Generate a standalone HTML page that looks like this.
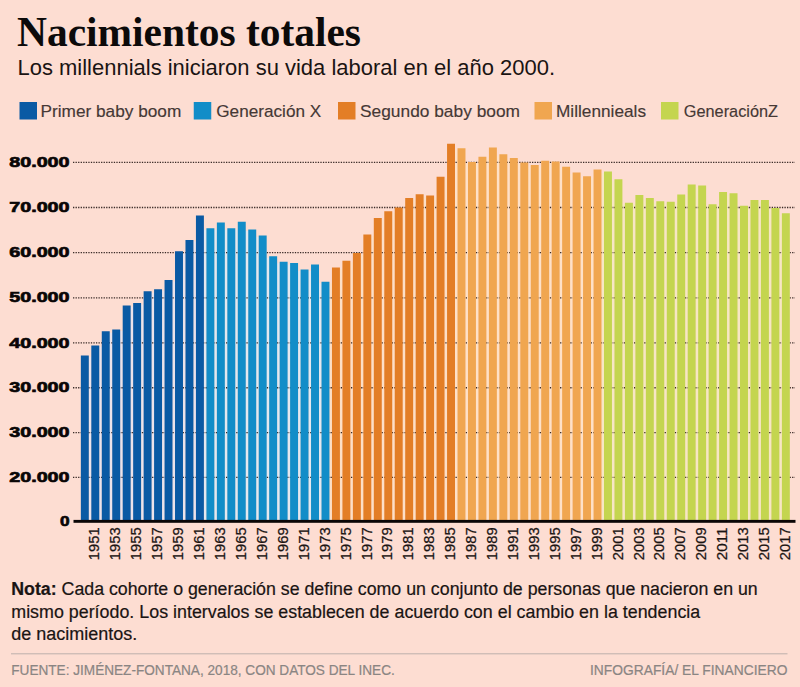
<!DOCTYPE html><html><head><meta charset="utf-8"><title>Nacimientos totales</title><style>
html,body{margin:0;padding:0;background:#fdddd2;}body{width:800px;height:687px;overflow:hidden;position:relative;font-family:"Liberation Sans",sans-serif;}svg{position:absolute;left:0;top:0;display:block}text{font-family:"Liberation Sans",sans-serif}.serif{font-family:"Liberation Serif",serif}
</style></head><body>
<svg width="800" height="687" viewBox="0 0 800 687">
<rect x="0" y="0" width="800" height="687" fill="#fdddd2"/>
<text class="serif" x="17" y="46.3" font-size="42.2" font-weight="bold" fill="#0c0a0a" textLength="344" lengthAdjust="spacingAndGlyphs">Nacimientos totales</text>
<text x="17.5" y="75" font-size="22.5" fill="#1a1413" textLength="537.5" lengthAdjust="spacingAndGlyphs">Los millennials iniciaron su vida laboral en el año 2000.</text>
<rect x="19.50" y="102" width="17.5" height="17.5" fill="#0a5aa4"/>
<text x="40.50" y="117" font-size="17" fill="#453835" stroke="#453835" stroke-width="0.15" textLength="140.75" lengthAdjust="spacingAndGlyphs">Primer baby boom</text>
<rect x="193.75" y="102" width="17.5" height="17.5" fill="#128dc8"/>
<text x="216.25" y="117" font-size="17" fill="#453835" stroke="#453835" stroke-width="0.15" textLength="105.00" lengthAdjust="spacingAndGlyphs">Generación X</text>
<rect x="338.00" y="102" width="17.5" height="17.5" fill="#e37e26"/>
<text x="360.00" y="117" font-size="17" fill="#453835" stroke="#453835" stroke-width="0.15" textLength="160.00" lengthAdjust="spacingAndGlyphs">Segundo baby boom</text>
<rect x="534.50" y="102" width="17.5" height="17.5" fill="#f0a650"/>
<text x="556.00" y="117" font-size="17" fill="#453835" stroke="#453835" stroke-width="0.15" textLength="90.00" lengthAdjust="spacingAndGlyphs">Millennieals</text>
<rect x="661.00" y="102" width="17.5" height="17.5" fill="#c4d54f"/>
<text x="683.75" y="117" font-size="17" fill="#453835" stroke="#453835" stroke-width="0.15" textLength="94.25" lengthAdjust="spacingAndGlyphs">GeneraciónZ</text>
<rect x="88.80" y="357.00" width="2.51" height="164.30" fill="#ece3ea"/>
<rect x="99.26" y="347.00" width="2.51" height="174.30" fill="#ece3ea"/>
<rect x="109.73" y="332.75" width="2.51" height="188.55" fill="#ece3ea"/>
<rect x="120.19" y="331.00" width="2.51" height="190.30" fill="#ece3ea"/>
<rect x="130.65" y="307.00" width="2.51" height="214.30" fill="#ece3ea"/>
<rect x="141.11" y="304.50" width="2.51" height="216.80" fill="#ece3ea"/>
<rect x="151.58" y="292.75" width="2.51" height="228.55" fill="#ece3ea"/>
<rect x="162.04" y="290.75" width="2.51" height="230.55" fill="#ece3ea"/>
<rect x="172.50" y="281.50" width="2.51" height="239.80" fill="#ece3ea"/>
<rect x="182.97" y="252.75" width="2.51" height="268.55" fill="#ece3ea"/>
<rect x="193.43" y="241.50" width="2.51" height="279.80" fill="#ece3ea"/>
<rect x="203.89" y="229.75" width="2.51" height="291.55" fill="#e4e8ef"/>
<rect x="214.36" y="229.75" width="2.51" height="291.55" fill="#e4e8ef"/>
<rect x="224.82" y="229.75" width="2.51" height="291.55" fill="#e4e8ef"/>
<rect x="235.28" y="229.75" width="2.51" height="291.55" fill="#e4e8ef"/>
<rect x="245.74" y="231.00" width="2.51" height="290.30" fill="#e4e8ef"/>
<rect x="256.21" y="237.00" width="2.51" height="284.30" fill="#e4e8ef"/>
<rect x="266.67" y="257.75" width="2.51" height="263.55" fill="#e4e8ef"/>
<rect x="277.13" y="263.25" width="2.51" height="258.05" fill="#e4e8ef"/>
<rect x="287.60" y="264.50" width="2.51" height="256.80" fill="#e4e8ef"/>
<rect x="298.06" y="271.00" width="2.51" height="250.30" fill="#e4e8ef"/>
<rect x="308.52" y="271.00" width="2.51" height="250.30" fill="#e4e8ef"/>
<rect x="318.99" y="283.25" width="2.51" height="238.05" fill="#e4e8ef"/>
<rect x="329.45" y="283.25" width="2.51" height="238.05" fill="#fddfc6"/>
<rect x="339.91" y="269.00" width="2.51" height="252.30" fill="#fddfc6"/>
<rect x="350.37" y="262.25" width="2.51" height="259.05" fill="#fddfc6"/>
<rect x="360.84" y="254.50" width="2.51" height="266.80" fill="#fddfc6"/>
<rect x="371.30" y="236.00" width="2.51" height="285.30" fill="#fddfc6"/>
<rect x="381.76" y="219.50" width="2.51" height="301.80" fill="#fddfc6"/>
<rect x="392.23" y="212.75" width="2.51" height="308.55" fill="#fddfc6"/>
<rect x="402.69" y="209.00" width="2.51" height="312.30" fill="#fddfc6"/>
<rect x="413.15" y="199.50" width="2.51" height="321.80" fill="#fddfc6"/>
<rect x="423.62" y="197.00" width="2.51" height="324.30" fill="#fddfc6"/>
<rect x="434.08" y="197.00" width="2.51" height="324.30" fill="#fddfc6"/>
<rect x="444.54" y="178.25" width="2.51" height="343.05" fill="#fddfc6"/>
<rect x="455.00" y="149.75" width="2.51" height="371.55" fill="#fee1c8"/>
<rect x="465.47" y="163.50" width="2.51" height="357.80" fill="#fee1c8"/>
<rect x="475.93" y="163.50" width="2.51" height="357.80" fill="#fee1c8"/>
<rect x="486.39" y="158.25" width="2.51" height="363.05" fill="#fee1c8"/>
<rect x="496.86" y="155.75" width="2.51" height="365.55" fill="#fee1c8"/>
<rect x="507.32" y="159.50" width="2.51" height="361.80" fill="#fee1c8"/>
<rect x="517.78" y="164.00" width="2.51" height="357.30" fill="#fee1c8"/>
<rect x="528.25" y="166.50" width="2.51" height="354.80" fill="#fee1c8"/>
<rect x="538.71" y="166.50" width="2.51" height="354.80" fill="#fee1c8"/>
<rect x="549.17" y="163.00" width="2.51" height="358.30" fill="#fee1c8"/>
<rect x="559.63" y="168.25" width="2.51" height="353.05" fill="#fee1c8"/>
<rect x="570.10" y="174.00" width="2.51" height="347.30" fill="#fee1c8"/>
<rect x="580.56" y="177.75" width="2.51" height="343.55" fill="#fee1c8"/>
<rect x="591.02" y="177.75" width="2.51" height="343.55" fill="#fee1c8"/>
<rect x="601.49" y="173.00" width="2.51" height="348.30" fill="#f7e6c4"/>
<rect x="611.95" y="180.75" width="2.51" height="340.55" fill="#f7e6c4"/>
<rect x="622.41" y="204.25" width="2.51" height="317.05" fill="#f7e6c4"/>
<rect x="632.88" y="204.25" width="2.51" height="317.05" fill="#f7e6c4"/>
<rect x="643.34" y="199.50" width="2.51" height="321.80" fill="#f7e6c4"/>
<rect x="653.80" y="202.75" width="2.51" height="318.55" fill="#f7e6c4"/>
<rect x="664.26" y="203.25" width="2.51" height="318.05" fill="#f7e6c4"/>
<rect x="674.73" y="203.25" width="2.51" height="318.05" fill="#f7e6c4"/>
<rect x="685.19" y="196.00" width="2.51" height="325.30" fill="#f7e6c4"/>
<rect x="695.65" y="187.00" width="2.51" height="334.30" fill="#f7e6c4"/>
<rect x="706.12" y="205.75" width="2.51" height="315.55" fill="#f7e6c4"/>
<rect x="716.58" y="205.75" width="2.51" height="315.55" fill="#f7e6c4"/>
<rect x="727.04" y="194.75" width="2.51" height="326.55" fill="#f7e6c4"/>
<rect x="737.51" y="207.25" width="2.51" height="314.05" fill="#f7e6c4"/>
<rect x="747.97" y="207.25" width="2.51" height="314.05" fill="#f7e6c4"/>
<rect x="758.43" y="201.50" width="2.51" height="319.80" fill="#f7e6c4"/>
<rect x="768.89" y="209.50" width="2.51" height="311.80" fill="#f7e6c4"/>
<rect x="779.36" y="214.75" width="2.51" height="306.55" fill="#f7e6c4"/>
<line x1="73" y1="162.40" x2="795" y2="162.40" stroke="#3b2c28" stroke-width="1.35" stroke-dasharray="1.3 1.25"/>
<line x1="73" y1="207.50" x2="795" y2="207.50" stroke="#3b2c28" stroke-width="1.35" stroke-dasharray="1.3 1.25"/>
<line x1="73" y1="252.60" x2="795" y2="252.60" stroke="#3b2c28" stroke-width="1.35" stroke-dasharray="1.3 1.25"/>
<line x1="73" y1="297.80" x2="795" y2="297.80" stroke="#3b2c28" stroke-width="1.35" stroke-dasharray="1.3 1.25"/>
<line x1="73" y1="342.90" x2="795" y2="342.90" stroke="#3b2c28" stroke-width="1.35" stroke-dasharray="1.3 1.25"/>
<line x1="73" y1="387.70" x2="795" y2="387.70" stroke="#3b2c28" stroke-width="1.35" stroke-dasharray="1.3 1.25"/>
<line x1="73" y1="432.60" x2="795" y2="432.60" stroke="#3b2c28" stroke-width="1.35" stroke-dasharray="1.3 1.25"/>
<line x1="73" y1="477.40" x2="795" y2="477.40" stroke="#3b2c28" stroke-width="1.35" stroke-dasharray="1.3 1.25"/>
<rect x="80.85" y="355.50" width="7.95" height="165.80" fill="#0a5aa4"/>
<rect x="91.31" y="345.50" width="7.95" height="175.80" fill="#0a5aa4"/>
<rect x="101.78" y="331.25" width="7.95" height="190.05" fill="#0a5aa4"/>
<rect x="112.24" y="329.50" width="7.95" height="191.80" fill="#0a5aa4"/>
<rect x="122.70" y="305.50" width="7.95" height="215.80" fill="#0a5aa4"/>
<rect x="133.16" y="303.00" width="7.95" height="218.30" fill="#0a5aa4"/>
<rect x="143.63" y="291.25" width="7.95" height="230.05" fill="#0a5aa4"/>
<rect x="154.09" y="289.25" width="7.95" height="232.05" fill="#0a5aa4"/>
<rect x="164.55" y="280.00" width="7.95" height="241.30" fill="#0a5aa4"/>
<rect x="175.02" y="251.25" width="7.95" height="270.05" fill="#0a5aa4"/>
<rect x="185.48" y="240.00" width="7.95" height="281.30" fill="#0a5aa4"/>
<rect x="195.94" y="215.50" width="7.95" height="305.80" fill="#0a5aa4"/>
<rect x="206.41" y="228.25" width="7.95" height="293.05" fill="#128dc8"/>
<rect x="216.87" y="222.50" width="7.95" height="298.80" fill="#128dc8"/>
<rect x="227.33" y="228.25" width="7.95" height="293.05" fill="#128dc8"/>
<rect x="237.79" y="221.75" width="7.95" height="299.55" fill="#128dc8"/>
<rect x="248.26" y="229.50" width="7.95" height="291.80" fill="#128dc8"/>
<rect x="258.72" y="235.50" width="7.95" height="285.80" fill="#128dc8"/>
<rect x="269.18" y="256.25" width="7.95" height="265.05" fill="#128dc8"/>
<rect x="279.65" y="261.75" width="7.95" height="259.55" fill="#128dc8"/>
<rect x="290.11" y="263.00" width="7.95" height="258.30" fill="#128dc8"/>
<rect x="300.57" y="269.50" width="7.95" height="251.80" fill="#128dc8"/>
<rect x="311.04" y="264.50" width="7.95" height="256.80" fill="#128dc8"/>
<rect x="321.50" y="281.75" width="7.95" height="239.55" fill="#128dc8"/>
<rect x="331.96" y="267.50" width="7.95" height="253.80" fill="#e37e26"/>
<rect x="342.42" y="260.75" width="7.95" height="260.55" fill="#e37e26"/>
<rect x="352.89" y="253.00" width="7.95" height="268.30" fill="#e37e26"/>
<rect x="363.35" y="234.50" width="7.95" height="286.80" fill="#e37e26"/>
<rect x="373.81" y="218.00" width="7.95" height="303.30" fill="#e37e26"/>
<rect x="384.28" y="211.25" width="7.95" height="310.05" fill="#e37e26"/>
<rect x="394.74" y="207.50" width="7.95" height="313.80" fill="#e37e26"/>
<rect x="405.20" y="198.00" width="7.95" height="323.30" fill="#e37e26"/>
<rect x="415.67" y="194.25" width="7.95" height="327.05" fill="#e37e26"/>
<rect x="426.13" y="195.50" width="7.95" height="325.80" fill="#e37e26"/>
<rect x="436.59" y="176.75" width="7.95" height="344.55" fill="#e37e26"/>
<rect x="447.05" y="143.75" width="7.95" height="377.55" fill="#e37e26"/>
<rect x="457.52" y="148.25" width="7.95" height="373.05" fill="#f0a650"/>
<rect x="467.98" y="162.00" width="7.95" height="359.30" fill="#f0a650"/>
<rect x="478.44" y="156.75" width="7.95" height="364.55" fill="#f0a650"/>
<rect x="488.91" y="147.50" width="7.95" height="373.80" fill="#f0a650"/>
<rect x="499.37" y="154.25" width="7.95" height="367.05" fill="#f0a650"/>
<rect x="509.83" y="158.00" width="7.95" height="363.30" fill="#f0a650"/>
<rect x="520.30" y="162.50" width="7.95" height="358.80" fill="#f0a650"/>
<rect x="530.76" y="165.00" width="7.95" height="356.30" fill="#f0a650"/>
<rect x="541.22" y="160.75" width="7.95" height="360.55" fill="#f0a650"/>
<rect x="551.68" y="161.50" width="7.95" height="359.80" fill="#f0a650"/>
<rect x="562.15" y="166.75" width="7.95" height="354.55" fill="#f0a650"/>
<rect x="572.61" y="172.50" width="7.95" height="348.80" fill="#f0a650"/>
<rect x="583.07" y="176.25" width="7.95" height="345.05" fill="#f0a650"/>
<rect x="593.54" y="169.50" width="7.95" height="351.80" fill="#f0a650"/>
<rect x="604.00" y="171.50" width="7.95" height="349.80" fill="#c4d54f"/>
<rect x="614.46" y="179.25" width="7.95" height="342.05" fill="#c4d54f"/>
<rect x="624.93" y="202.75" width="7.95" height="318.55" fill="#c4d54f"/>
<rect x="635.39" y="195.00" width="7.95" height="326.30" fill="#c4d54f"/>
<rect x="645.85" y="198.00" width="7.95" height="323.30" fill="#c4d54f"/>
<rect x="656.31" y="201.25" width="7.95" height="320.05" fill="#c4d54f"/>
<rect x="666.78" y="201.75" width="7.95" height="319.55" fill="#c4d54f"/>
<rect x="677.24" y="194.50" width="7.95" height="326.80" fill="#c4d54f"/>
<rect x="687.70" y="184.50" width="7.95" height="336.80" fill="#c4d54f"/>
<rect x="698.17" y="185.50" width="7.95" height="335.80" fill="#c4d54f"/>
<rect x="708.63" y="204.25" width="7.95" height="317.05" fill="#c4d54f"/>
<rect x="719.09" y="192.00" width="7.95" height="329.30" fill="#c4d54f"/>
<rect x="729.56" y="193.25" width="7.95" height="328.05" fill="#c4d54f"/>
<rect x="740.02" y="205.75" width="7.95" height="315.55" fill="#c4d54f"/>
<rect x="750.48" y="200.00" width="7.95" height="321.30" fill="#c4d54f"/>
<rect x="760.94" y="200.00" width="7.95" height="321.30" fill="#c4d54f"/>
<rect x="771.41" y="208.00" width="7.95" height="313.30" fill="#c4d54f"/>
<rect x="781.87" y="213.25" width="7.95" height="308.05" fill="#c4d54f"/>
<rect x="73.5" y="519.9" width="722" height="2.9" fill="#0a0606"/>
<text x="69.6" y="167.00" font-size="15.3" font-weight="bold" fill="#0a0606" stroke="#0a0606" stroke-width="0.7" text-anchor="end" textLength="60.4" lengthAdjust="spacingAndGlyphs">80.000</text>
<text x="69.6" y="212.10" font-size="15.3" font-weight="bold" fill="#0a0606" stroke="#0a0606" stroke-width="0.7" text-anchor="end" textLength="60.4" lengthAdjust="spacingAndGlyphs">70.000</text>
<text x="69.6" y="257.20" font-size="15.3" font-weight="bold" fill="#0a0606" stroke="#0a0606" stroke-width="0.7" text-anchor="end" textLength="60.4" lengthAdjust="spacingAndGlyphs">60.000</text>
<text x="69.6" y="302.40" font-size="15.3" font-weight="bold" fill="#0a0606" stroke="#0a0606" stroke-width="0.7" text-anchor="end" textLength="60.4" lengthAdjust="spacingAndGlyphs">50.000</text>
<text x="69.6" y="347.50" font-size="15.3" font-weight="bold" fill="#0a0606" stroke="#0a0606" stroke-width="0.7" text-anchor="end" textLength="60.4" lengthAdjust="spacingAndGlyphs">40.000</text>
<text x="69.6" y="392.30" font-size="15.3" font-weight="bold" fill="#0a0606" stroke="#0a0606" stroke-width="0.7" text-anchor="end" textLength="60.4" lengthAdjust="spacingAndGlyphs">30.000</text>
<text x="69.6" y="437.20" font-size="15.3" font-weight="bold" fill="#0a0606" stroke="#0a0606" stroke-width="0.7" text-anchor="end" textLength="60.4" lengthAdjust="spacingAndGlyphs">30.000</text>
<text x="69.6" y="482.00" font-size="15.3" font-weight="bold" fill="#0a0606" stroke="#0a0606" stroke-width="0.7" text-anchor="end" textLength="60.4" lengthAdjust="spacingAndGlyphs">20.000</text>
<text x="69.6" y="526.4" font-size="15.3" font-weight="bold" fill="#0a0606" stroke="#0a0606" stroke-width="0.7" text-anchor="end" textLength="9.6" lengthAdjust="spacingAndGlyphs">0</text>
<text transform="translate(99.49,560.2) rotate(-90)" font-size="15" fill="#1a1413" stroke="#1a1413" stroke-width="0.25" textLength="32.8" lengthAdjust="spacingAndGlyphs">1951</text>
<text transform="translate(120.41,560.2) rotate(-90)" font-size="15" fill="#1a1413" stroke="#1a1413" stroke-width="0.25" textLength="32.8" lengthAdjust="spacingAndGlyphs">1953</text>
<text transform="translate(141.34,560.2) rotate(-90)" font-size="15" fill="#1a1413" stroke="#1a1413" stroke-width="0.25" textLength="32.8" lengthAdjust="spacingAndGlyphs">1955</text>
<text transform="translate(162.27,560.2) rotate(-90)" font-size="15" fill="#1a1413" stroke="#1a1413" stroke-width="0.25" textLength="32.8" lengthAdjust="spacingAndGlyphs">1957</text>
<text transform="translate(183.19,560.2) rotate(-90)" font-size="15" fill="#1a1413" stroke="#1a1413" stroke-width="0.25" textLength="32.8" lengthAdjust="spacingAndGlyphs">1959</text>
<text transform="translate(204.12,560.2) rotate(-90)" font-size="15" fill="#1a1413" stroke="#1a1413" stroke-width="0.25" textLength="32.8" lengthAdjust="spacingAndGlyphs">1961</text>
<text transform="translate(225.04,560.2) rotate(-90)" font-size="15" fill="#1a1413" stroke="#1a1413" stroke-width="0.25" textLength="32.8" lengthAdjust="spacingAndGlyphs">1963</text>
<text transform="translate(245.97,560.2) rotate(-90)" font-size="15" fill="#1a1413" stroke="#1a1413" stroke-width="0.25" textLength="32.8" lengthAdjust="spacingAndGlyphs">1965</text>
<text transform="translate(266.90,560.2) rotate(-90)" font-size="15" fill="#1a1413" stroke="#1a1413" stroke-width="0.25" textLength="32.8" lengthAdjust="spacingAndGlyphs">1967</text>
<text transform="translate(287.82,560.2) rotate(-90)" font-size="15" fill="#1a1413" stroke="#1a1413" stroke-width="0.25" textLength="32.8" lengthAdjust="spacingAndGlyphs">1969</text>
<text transform="translate(308.75,560.2) rotate(-90)" font-size="15" fill="#1a1413" stroke="#1a1413" stroke-width="0.25" textLength="32.8" lengthAdjust="spacingAndGlyphs">1971</text>
<text transform="translate(329.67,560.2) rotate(-90)" font-size="15" fill="#1a1413" stroke="#1a1413" stroke-width="0.25" textLength="32.8" lengthAdjust="spacingAndGlyphs">1973</text>
<text transform="translate(350.60,560.2) rotate(-90)" font-size="15" fill="#1a1413" stroke="#1a1413" stroke-width="0.25" textLength="32.8" lengthAdjust="spacingAndGlyphs">1975</text>
<text transform="translate(371.53,560.2) rotate(-90)" font-size="15" fill="#1a1413" stroke="#1a1413" stroke-width="0.25" textLength="32.8" lengthAdjust="spacingAndGlyphs">1977</text>
<text transform="translate(392.45,560.2) rotate(-90)" font-size="15" fill="#1a1413" stroke="#1a1413" stroke-width="0.25" textLength="32.8" lengthAdjust="spacingAndGlyphs">1979</text>
<text transform="translate(413.38,560.2) rotate(-90)" font-size="15" fill="#1a1413" stroke="#1a1413" stroke-width="0.25" textLength="32.8" lengthAdjust="spacingAndGlyphs">1981</text>
<text transform="translate(434.30,560.2) rotate(-90)" font-size="15" fill="#1a1413" stroke="#1a1413" stroke-width="0.25" textLength="32.8" lengthAdjust="spacingAndGlyphs">1983</text>
<text transform="translate(455.23,560.2) rotate(-90)" font-size="15" fill="#1a1413" stroke="#1a1413" stroke-width="0.25" textLength="32.8" lengthAdjust="spacingAndGlyphs">1985</text>
<text transform="translate(476.16,560.2) rotate(-90)" font-size="15" fill="#1a1413" stroke="#1a1413" stroke-width="0.25" textLength="32.8" lengthAdjust="spacingAndGlyphs">1987</text>
<text transform="translate(497.08,560.2) rotate(-90)" font-size="15" fill="#1a1413" stroke="#1a1413" stroke-width="0.25" textLength="32.8" lengthAdjust="spacingAndGlyphs">1989</text>
<text transform="translate(518.01,560.2) rotate(-90)" font-size="15" fill="#1a1413" stroke="#1a1413" stroke-width="0.25" textLength="32.8" lengthAdjust="spacingAndGlyphs">1991</text>
<text transform="translate(538.93,560.2) rotate(-90)" font-size="15" fill="#1a1413" stroke="#1a1413" stroke-width="0.25" textLength="32.8" lengthAdjust="spacingAndGlyphs">1993</text>
<text transform="translate(559.86,560.2) rotate(-90)" font-size="15" fill="#1a1413" stroke="#1a1413" stroke-width="0.25" textLength="32.8" lengthAdjust="spacingAndGlyphs">1995</text>
<text transform="translate(580.79,560.2) rotate(-90)" font-size="15" fill="#1a1413" stroke="#1a1413" stroke-width="0.25" textLength="32.8" lengthAdjust="spacingAndGlyphs">1997</text>
<text transform="translate(601.71,560.2) rotate(-90)" font-size="15" fill="#1a1413" stroke="#1a1413" stroke-width="0.25" textLength="32.8" lengthAdjust="spacingAndGlyphs">1999</text>
<text transform="translate(622.64,560.2) rotate(-90)" font-size="15" fill="#1a1413" stroke="#1a1413" stroke-width="0.25" textLength="32.8" lengthAdjust="spacingAndGlyphs">2001</text>
<text transform="translate(643.56,560.2) rotate(-90)" font-size="15" fill="#1a1413" stroke="#1a1413" stroke-width="0.25" textLength="32.8" lengthAdjust="spacingAndGlyphs">2003</text>
<text transform="translate(664.49,560.2) rotate(-90)" font-size="15" fill="#1a1413" stroke="#1a1413" stroke-width="0.25" textLength="32.8" lengthAdjust="spacingAndGlyphs">2005</text>
<text transform="translate(685.42,560.2) rotate(-90)" font-size="15" fill="#1a1413" stroke="#1a1413" stroke-width="0.25" textLength="32.8" lengthAdjust="spacingAndGlyphs">2007</text>
<text transform="translate(706.34,560.2) rotate(-90)" font-size="15" fill="#1a1413" stroke="#1a1413" stroke-width="0.25" textLength="32.8" lengthAdjust="spacingAndGlyphs">2009</text>
<text transform="translate(727.27,560.2) rotate(-90)" font-size="15" fill="#1a1413" stroke="#1a1413" stroke-width="0.25" textLength="32.8" lengthAdjust="spacingAndGlyphs">2011</text>
<text transform="translate(748.19,560.2) rotate(-90)" font-size="15" fill="#1a1413" stroke="#1a1413" stroke-width="0.25" textLength="32.8" lengthAdjust="spacingAndGlyphs">2013</text>
<text transform="translate(769.12,560.2) rotate(-90)" font-size="15" fill="#1a1413" stroke="#1a1413" stroke-width="0.25" textLength="32.8" lengthAdjust="spacingAndGlyphs">2015</text>
<text transform="translate(790.05,560.2) rotate(-90)" font-size="15" fill="#1a1413" stroke="#1a1413" stroke-width="0.25" textLength="32.8" lengthAdjust="spacingAndGlyphs">2017</text>
<text x="11.25" y="595" font-size="17.6" fill="#1a1413" stroke="#1a1413" stroke-width="0.2" textLength="746.5" lengthAdjust="spacingAndGlyphs"><tspan font-weight="bold">Nota:</tspan> Cada cohorte o generación se define como un conjunto de personas que nacieron en un</text>
<text x="11.25" y="617.5" font-size="17.6" fill="#1a1413" stroke="#1a1413" stroke-width="0.2" textLength="689" lengthAdjust="spacingAndGlyphs">mismo período. Los intervalos se establecen de acuerdo con el cambio en la tendencia</text>
<text x="11.25" y="640" font-size="17.6" fill="#1a1413" stroke="#1a1413" stroke-width="0.2" textLength="126" lengthAdjust="spacingAndGlyphs">de nacimientos.</text>
<rect x="11" y="653.3" width="776.5" height="1" fill="#bdb0ab"/>
<text x="11.25" y="674.5" font-size="13.8" fill="#8a8583" stroke="#8a8583" stroke-width="0.2" textLength="383.5" lengthAdjust="spacingAndGlyphs">FUENTE: JIMÉNEZ-FONTANA, 2018, CON DATOS DEL INEC.</text>
<text x="590" y="674.5" font-size="13.8" fill="#8a8583" stroke="#8a8583" stroke-width="0.2" textLength="197.5" lengthAdjust="spacingAndGlyphs">INFOGRAFÍA/ EL FINANCIERO</text>
</svg></body></html>
